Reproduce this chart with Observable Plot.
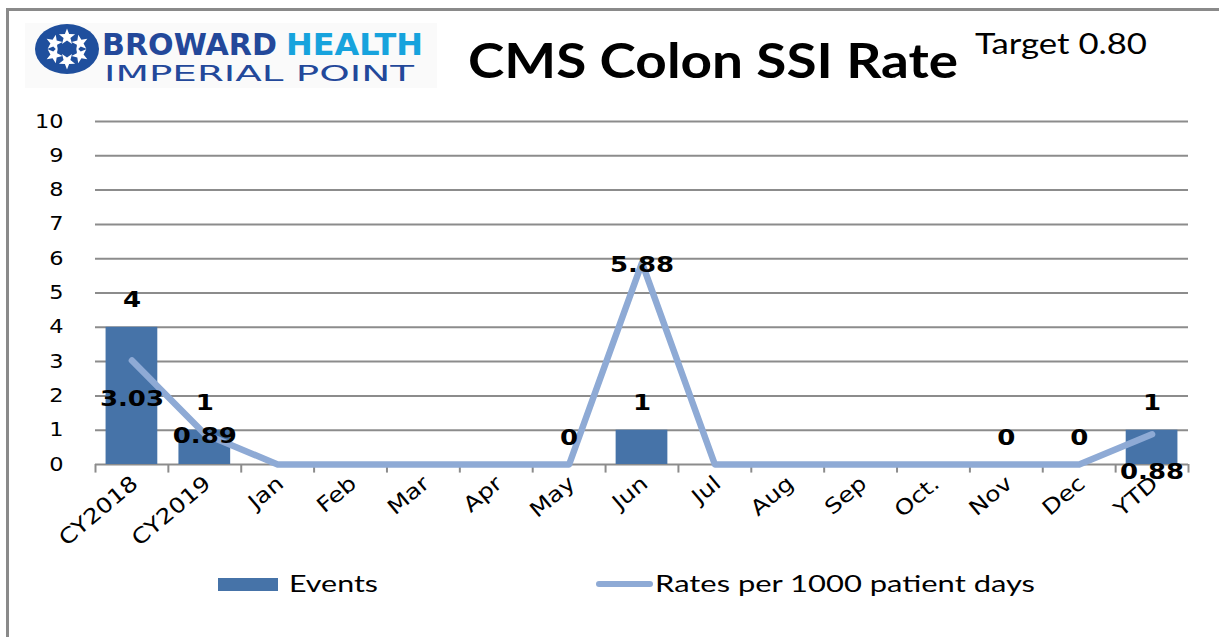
<!DOCTYPE html>
<html><head><meta charset="utf-8">
<script src="https://cdn.jsdelivr.net/npm/d3@7"></script>
<script src="https://cdn.jsdelivr.net/npm/@observablehq/plot@0.6"></script>
<style>
body{margin:0;background:#fff;}
#wrap{position:relative;width:1219px;height:637px;overflow:hidden;background:#fff;}
.frame{position:absolute;background:#8a8a8a;}
#chart,#header,#legend{position:absolute;left:0;}
#chart{top:0;}
#header{top:0;}
#legend{top:560px;}
</style></head>
<body><div id="wrap">
<div class="frame" style="left:6px;top:8px;width:3px;height:629px;"></div>
<div class="frame" style="left:6px;top:8px;width:1213px;height:3px;"></div>
<div id="chart"></div>
<svg id="header" width="1219" height="100"></svg>
<svg id="legend" width="1219" height="60"></svg>
</div>
<script>
// ---- data ----
const categories = ["CY2018","CY2019","Jan","Feb","Mar","Apr","May","Jun","Jul","Aug","Sep","Oct.","Nov","Dec","YTD"];
const events = [4, 1, null, null, null, null, 0, 1, null, null, null, null, 0, 0, 1];
const rates = [3.03, 0.89, 0, 0, 0, 0, 0, 5.88, 0, 0, 0, 0, 0, 0, 0.88];
const rateLabelText = ["3.03", "0.89", "", "", "", "", "", "5.88", "", "", "", "", "", "", "0.88"];
const yTicks = [0, 1, 2, 3, 4, 5, 6, 7, 8, 9, 10];
const titleText = "CMS Colon SSI Rate";
const targetText = "Target 0.80";
const seriesNames = ["Events", "Rates per 1000 patient days"];

// label placement (Excel-style manual positions)
const rateLabelsBelow = ["CY2018", "YTD"];

const barColor = "#4673a8";
const lineColor = "#8eaad5";
const gridColor = "#8c8c8c";

const table = categories.map((c, i) => ({cat: c, events: events[i], rate: rates[i], rateLabel: rateLabelText[i]}));

const W = 1219, ml = 95, mr = 31;
const step = (W - ml - mr) / categories.length;

const chart = Plot.plot({
  width: W, height: 560,
  marginLeft: ml, marginRight: mr, marginTop: 121, marginBottom: 96,
  x: {domain: categories, paddingInner: 0.29, paddingOuter: 0.145, round: false, label: null},
  y: {domain: [0, 10], label: null},
  style: {fontFamily: "DejaVu Sans", fontSize: "19px", color: "#000", background: "transparent", overflow: "visible"},
  marks: [
    Plot.ruleY(yTicks, {stroke: gridColor, strokeWidth: 2}),
    Plot.axisY(yTicks, {tickSize: 0, tickPadding: 32, fontSize: 19, label: null, fill: "#000"}),
    Plot.axisX({tickSize: 0, tickPadding: 16, tickRotate: -40, fontSize: 21, dx: 3, label: null, fill: "#000"}),
    Plot.barY(table.filter(d => d.events != null), {x: "cat", y: "events", fill: barColor}),
    Plot.ruleX(categories, {x: d => d, dx: -step / 2, y1: 0, y2: -0.25, stroke: gridColor, strokeWidth: 2}),
    Plot.ruleX([categories[categories.length - 1]], {x: d => d, dx: step / 2, y1: 0, y2: -0.25, stroke: gridColor, strokeWidth: 2}),
    Plot.lineY(table, {x: "cat", y: "rate", stroke: lineColor, strokeWidth: 6.5}),
    Plot.text(table.filter(d => d.events != null), {x: "cat", y: "events", text: d => String(d.events), dy: -27, fontSize: 22, fontWeight: "bold", fill: "#000"}),
    Plot.text(table.filter(d => d.rateLabel && rateLabelsBelow.includes(d.cat)), {x: "cat", y: "rate", text: "rateLabel", dy: 38, fontSize: 22, fontWeight: "bold", fill: "#000"}),
    Plot.text(table.filter(d => d.rateLabel && !rateLabelsBelow.includes(d.cat)), {x: "cat", y: "rate", text: "rateLabel", dy: 2, fontSize: 22, fontWeight: "bold", fill: "#000"})
  ]
});
document.getElementById("chart").appendChild(chart);

// widen chart text horizontally like the reference
chart.querySelectorAll("text").forEach(t => {
  if (t.querySelector("tspan")) return;
  const L = t.getComputedTextLength();
  if (L > 0) { t.setAttribute("textLength", (L * 1.18).toFixed(1)); t.setAttribute("lengthAdjust", "spacingAndGlyphs"); }
});

// ---- header: logo + title ----
const NS = "http://www.w3.org/2000/svg";
function el(parent, tag, attrs, text) {
  const e = document.createElementNS(NS, tag);
  for (const k in attrs) e.setAttribute(k, attrs[k]);
  if (text != null) e.textContent = text;
  parent.appendChild(e);
  return e;
}
function starPath(cx, cy, R, r, rot) {
  let p = "";
  for (let k = 0; k < 10; k++) {
    const a = rot + k * Math.PI / 5 - Math.PI / 2;
    const rr = k % 2 ? r : R;
    p += (k ? "L" : "M") + (cx + rr * Math.cos(a)).toFixed(2) + "," + (cy + rr * Math.sin(a)).toFixed(2);
  }
  return p + "Z";
}
const hdr = document.getElementById("header");
el(hdr, "rect", {x: 25, y: 23, width: 412, height: 65, fill: "#fafafa"});
el(hdr, "ellipse", {cx: 67, cy: 49, rx: 32, ry: 25, fill: "#1f4f9d"});
for (let k = 0; k < 6; k++) {
  const a = k * Math.PI / 3 + Math.PI / 6;
  el(hdr, "path", {d: starPath(67 + 15 * Math.cos(a), 49 + 12 * Math.sin(a), 8.5, 3.6, a + Math.PI / 2), fill: "#fff"});
}
el(hdr, "path", {d: starPath(67, 49, 5, 2.2, 0), fill: "#1f4f9d"});
el(hdr, "text", {x: 102, y: 55, "font-family": "DejaVu Sans", "font-weight": "bold", "font-size": 30, fill: "#23489a", textLength: 175, lengthAdjust: "spacingAndGlyphs"}, "BROWARD");
el(hdr, "text", {x: 286, y: 55, "font-family": "DejaVu Sans", "font-weight": "bold", "font-size": 30, fill: "#17a3dd", textLength: 137, lengthAdjust: "spacingAndGlyphs"}, "HEALTH");
el(hdr, "text", {x: 104, y: 81, "font-family": "DejaVu Sans", "font-size": 22, fill: "#23489a", textLength: 310, lengthAdjust: "spacingAndGlyphs"}, "IMPERIAL POINT");
el(hdr, "text", {x: 468, y: 78, "font-family": "Lato", "font-weight": "bold", "font-size": 48, fill: "#000", textLength: 490, lengthAdjust: "spacingAndGlyphs"}, titleText);
el(hdr, "text", {x: 975, y: 54, "font-family": "Lato", "font-size": 29, fill: "#000", textLength: 172, lengthAdjust: "spacingAndGlyphs"}, targetText);

// ---- legend ----
const lg = document.getElementById("legend");
el(lg, "rect", {x: 218, y: 18, width: 60, height: 13, fill: barColor});
el(lg, "text", {x: 289, y: 32, "font-family": "Lato", "font-size": 24, fill: "#000", textLength: 89, lengthAdjust: "spacingAndGlyphs"}, seriesNames[0]);
el(lg, "line", {x1: 599, x2: 650, y1: 24, y2: 24, stroke: lineColor, "stroke-width": 6, "stroke-linecap": "round"});
el(lg, "text", {x: 655, y: 32, "font-family": "Lato", "font-size": 24, fill: "#000", textLength: 380, lengthAdjust: "spacingAndGlyphs"}, seriesNames[1]);
</script>
</body></html>
